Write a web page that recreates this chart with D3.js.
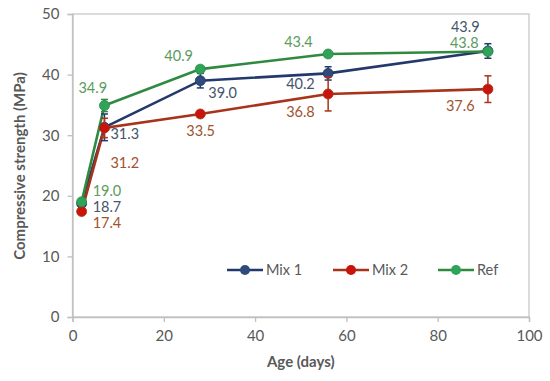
<!DOCTYPE html>
<html>
<head>
<meta charset="utf-8">
<script src="https://cdn.jsdelivr.net/npm/d3@7"></script>
<style>
  body { margin: 0; background: #fff; }
  svg { display: block; font-family: Lato, "Liberation Sans", sans-serif; }
</style>
</head>
<body>
<div id="chart"></div>
<script>
// data
const days = [2, 7, 28, 56, 91];
const mix1 = [18.7, 31.3, 39.0, 40.2, 43.9];
const mix2 = [17.4, 31.2, 33.5, 36.8, 37.6];
const ref = [19.0, 34.9, 40.9, 43.4, 43.8];
const mix1Err = [0.4, 2.2, 1.2, 1.1, 1.2];
const mix2Err = [0.4, 1.6, 0.4, 2.8, 2.2];
const refErr = [0.4, 1.0, 0.4, 0.4, 0.5];
const xTicks = [0, 20, 40, 60, 80, 100];
const yTicks = [0, 10, 20, 30, 40, 50];

const width = 550, height = 381;
const margin = {left: 72.5, right: 21, top: 14, bottom: 64};

const svg = d3.select("#chart").append("svg")
  .attr("width", width).attr("height", height);

const x = d3.scaleLinear().domain([0, 100]).range([margin.left, width - margin.right]);
const y = d3.scaleLinear().domain([0, 50]).range([height - margin.bottom, margin.top]);

// frame
svg.append("rect")
  .attr("x", x(0)).attr("y", y(50))
  .attr("width", x(100) - x(0)).attr("height", y(0) - y(50))
  .attr("fill", "none").attr("stroke", "#c8c8c8").attr("stroke-width", 1.3);

const xAxis = svg.append("g")
  .attr("transform", "translate(0," + y(0) + ")")
  .call(d3.axisBottom(x).tickValues(xTicks).tickSize(5).tickPadding(8));
const yAxis = svg.append("g")
  .attr("transform", "translate(" + x(0) + ",0)")
  .call(d3.axisLeft(y).tickValues(yTicks).tickSize(5).tickPadding(8));
[xAxis, yAxis].forEach(a => {
  a.select(".domain").attr("stroke", "#bfbfbf").attr("stroke-width", 1.3);
  a.selectAll(".tick line").attr("stroke", "#bfbfbf").attr("stroke-width", 1.3);
  a.selectAll(".tick text").attr("fill", "#595959")
    .style("font-size", "15px").style("font-family", "Lato, sans-serif");
});

svg.append("text")
  .attr("x", (x(0) + x(100)) / 2).attr("y", 367)
  .attr("text-anchor", "middle").attr("fill", "#595959")
  .style("font-size", "15px").style("font-weight", "bold")
  .text("Age (days)");
svg.append("text")
  .attr("transform", "translate(25," + 166 + ") rotate(-90)")
  .attr("text-anchor", "middle").attr("fill", "#595959")
  .style("font-size", "15px").style("font-weight", "bold")
  .text("Compressive strength (MPa)");

// label offsets relative to the point (dx, dy), text anchored at start
const series = [
  {name: "Mix 1", values: mix1, err: mix1Err, line: "#23396b", marker: "#2f4b7c", text: "#44546a",
   offs: [[11, 8], [6, 12], [8, 17], [-42, 16], [-37, -19]]},
  {name: "Mix 2", values: mix2, err: mix2Err, line: "#a8331b", marker: "#c8140a", text: "#a0522d",
   offs: [[11, 16], [6, 40], [-14, 22], [-42, 23], [-42, 22]]},
  {name: "Ref", values: ref, err: refErr, line: "#2f8a40", marker: "#30a35a", text: "#5b9b5b",
   offs: [[11, -6], [-26, -13], [-36, -8], [-44, -7], [-38, -4]]}
];

const line = d3.line().x(d => x(d[0])).y(d => y(d[1]));

series.forEach(s => {
  const pts = days.map((d, i) => [d, s.values[i]]);
  svg.append("path").datum(pts)
    .attr("d", line).attr("fill", "none")
    .attr("stroke", s.line).attr("stroke-width", 2.6);
});

series.forEach(s => {
  const g = svg.append("g");
  days.forEach((d, i) => {
    const cx = x(d), lo = y(s.values[i] - s.err[i]), hi = y(s.values[i] + s.err[i]);
    g.append("line").attr("x1", cx).attr("x2", cx).attr("y1", lo).attr("y2", hi)
      .attr("stroke", s.line).attr("stroke-width", 1.5);
    [lo, hi].forEach(yy => g.append("line")
      .attr("x1", cx - 3.5).attr("x2", cx + 3.5).attr("y1", yy).attr("y2", yy)
      .attr("stroke", s.line).attr("stroke-width", 1.5));
  });
  g.selectAll("circle").data(days).enter().append("circle")
    .attr("cx", d => x(d)).attr("cy", (d, i) => y(s.values[i]))
    .attr("r", 5).attr("fill", s.marker).attr("stroke", s.line).attr("stroke-width", 0.8);
});

series.forEach(s => {
  svg.selectAll(null).data(days).enter().append("text")
    .attr("x", (d, i) => x(d) + s.offs[i][0])
    .attr("y", (d, i) => y(s.values[i]) + s.offs[i][1])
    .attr("fill", s.text)
    .style("font-size", "14.5px")
    .text((d, i) => s.values[i].toFixed(1));
});

// legend
const legX = [227, 333, 438];
series.forEach((s, i) => {
  const g = svg.append("g").attr("transform", "translate(" + legX[i] + ",270)");
  g.append("line").attr("x1", 0).attr("x2", 36).attr("stroke", s.line).attr("stroke-width", 2.6);
  g.append("circle").attr("cx", 18).attr("r", 5).attr("fill", s.marker);
  g.append("text").attr("x", 39).attr("y", 5).attr("fill", "#595959")
    .style("font-size", "14.5px").text(s.name);
});
</script>
</body>
</html>
